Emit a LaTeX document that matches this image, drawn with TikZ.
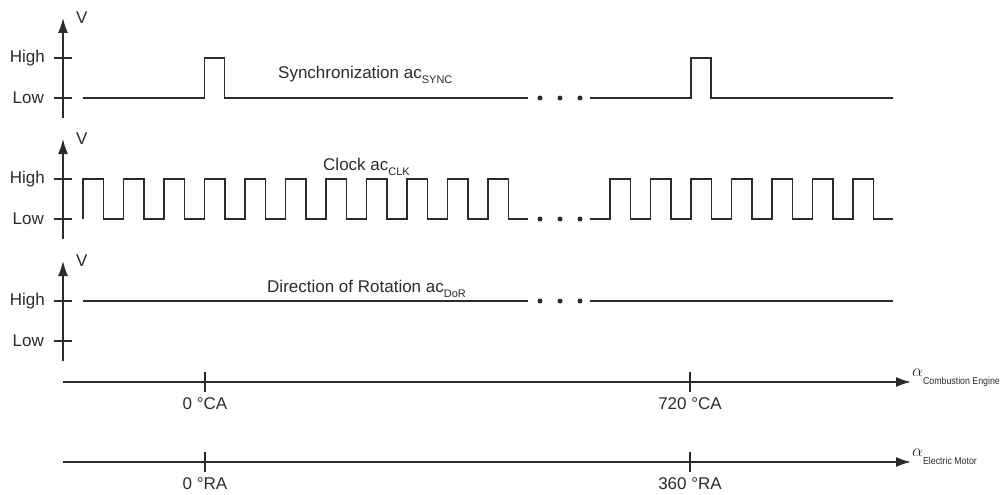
\documentclass[tikz,border=0pt]{standalone}
\usepackage{graphicx}
\usepackage{fontspec}
\setmainfont{Liberation Sans}
\usetikzlibrary{arrows.meta, positioning}
\definecolor{wave}{HTML}{2B2B2B}
\newcommand{\sigsub}[1]{\raisebox{-0.32em}{\fontsize{11}{12}\selectfont #1}}
\newcommand{\angsub}[1]{\raisebox{-0.5em}{\scalebox{0.88}[1]{\fontsize{10}{11}\selectfont #1}}}
\tikzset{
  signal/.style={draw=wave, line width=1.5pt, line join=miter},
  axis-edge/.style={-{Latex[length=15pt, width=10pt]}, draw=wave, line width=1.5pt},
  tickmark/.style={draw=wave, line width=1.5pt},
  lvl/.style={font=\fontsize{17}{19}\selectfont, anchor=east, inner sep=0pt, text=wave},
  lbl/.style={font=\fontsize{17}{19}\selectfont, inner sep=0pt, text=wave},
  gapdot/.style={circle, fill=wave, inner sep=0pt, minimum size=5pt}
}

\begin{document}
\begin{tikzpicture}[x=1pt, y=-1pt]
  \useasboundingbox (0,0) rectangle (1007,495);

  % ---- Voltage axes with High / Low levels ---------------------------------
  \foreach \row/\hi in {sync/58, clk/179, dor/301} {
    \coordinate (\row-base) at (63,\hi+60);
    \coordinate (\row-tip)  at (63,\hi-40);
    \draw[axis-edge] (\row-base) -- (\row-tip);
    \node[lbl, anchor=west] (\row-v) at (76,\hi-40) {V};
    \draw[tickmark] (54,\hi) -- (72,\hi);
    \draw[tickmark] (54,\hi+40) -- (72,\hi+40);
    \node[lvl] (\row-high) at (45,\hi)    {High};
    \node[lvl] (\row-low)  at (44,\hi+40) {Low};
  }

  % ---- Synchronization signal ---------------------------------------------
  \draw[signal] (83,98) -- (204.5,98) -- (204.5,58) -- (224.5,58)
        -- (224.5,98) -- (528,98);
  \draw[signal] (590,98) -- (691,98) -- (691,58) -- (711,58)
        -- (711,98) -- (893,98);
  \node[lbl, anchor=base west] (sync-name) at (278,78)
        {Synchronization ac\sigsub{SYNC}};

  % ---- Clock signal -------------------------------------------------------
  \draw[signal] (83,219) \foreach \k in {0,...,10} {
        -- ({83+40.5*\k},219) -- ({83+40.5*\k},179)
        -- ({103.5+40.5*\k},179) -- ({103.5+40.5*\k},219) } -- (528,219);
  \draw[signal] (590,219) \foreach \k in {0,...,6} {
        -- ({610+40.5*\k},219) -- ({610+40.5*\k},179)
        -- ({630.5+40.5*\k},179) -- ({630.5+40.5*\k},219) } -- (893,219);
  \node[lbl, anchor=base west] (clk-name) at (323,170) {Clock ac\sigsub{CLK}};

  % ---- Direction of rotation signal ---------------------------------------
  \draw[signal] (83,301) -- (528,301);
  \draw[signal] (590,301) -- (893,301);
  \node[lbl, anchor=base west] (dor-name) at (267,292)
        {Direction of Rotation ac\sigsub{DoR}};

  % ---- Gaps in the signals ------------------------------------------------
  \foreach \row/\y in {sync/98, clk/219, dor/301}
    \foreach \i/\x in {1/540, 2/560, 3/580}
      \node[gapdot] (\row-dot\i) at (\x,\y) {};

  % ---- Crank angle and rotor angle axes -----------------------------------
  \foreach \ax/\y/\unit/\full/\name in
      {ca/382/CA/720/Combustion Engine, ra/462/RA/360/Electric Motor} {
    \coordinate (\ax-start) at (63,\y);
    \coordinate (\ax-end)   at (911,\y);
    \draw[axis-edge] (\ax-start) -- (\ax-end);
    \draw[tickmark] (205,\y-10) -- (205,\y+10);
    \draw[tickmark] (690,\y-10) -- (690,\y+10);
    \node[lbl] (\ax-zero) at (205,\y+22) {0 °\unit};
    \node[lbl] (\ax-full) at (690,\y+22) {\full\ °\unit};
    \node[lbl, anchor=base west] (\ax-name) at (912,\y-6)
          {$\alpha$\angsub{\name}};
  }

\end{tikzpicture}
\end{document}
